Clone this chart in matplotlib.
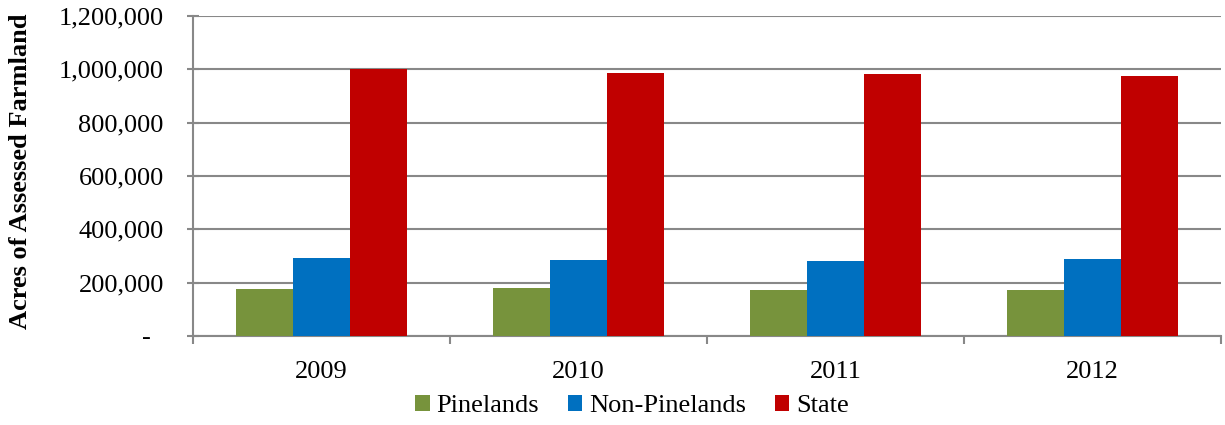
import numpy as np
import matplotlib.pyplot as plt
from matplotlib.ticker import FuncFormatter

years = ["2009", "2010", "2011", "2012"]
pinelands = [175000, 180000, 174000, 173000]
non_pinelands = [294000, 285000, 283000, 287000]
state = [1000000, 987000, 982000, 975000]

series = [("Pinelands", pinelands, "#77933C"),
          ("Non-Pinelands", non_pinelands, "#0070C0"),
          ("State", state, "#C00000")]

plt.rcParams['font.family'] = ['Liberation Serif', 'DejaVu Serif']
fs = 19

fig = plt.figure(figsize=(12.25, 4.25), dpi=100)
ax = fig.add_axes([193/1225, 1 - 336/425, 1028/1225, 320/425])

x = np.arange(len(years))
w = 0.222
for i, (name, vals, col) in enumerate(series):
    ax.bar(x + (i - 1) * w, vals, w, color=col, label=name, zorder=3)

ax.set_xlim(-0.5, 3.5)
ax.set_ylim(0, 1200000)
ax.set_yticks(np.arange(0, 1200001, 200000))
ax.yaxis.set_major_formatter(FuncFormatter(lambda v, p: "-  " if v == 0 else f"{int(v):,}"))
ax.set_xticks(x)
ax.set_xticklabels(years)
ax.set_xticks(np.arange(-0.5, 4, 1), minor=True)
ax.tick_params(axis='x', which='major', length=0, labelsize=fs, pad=18)
ax.tick_params(axis='x', which='minor', length=6, width=1.5, color='#888888', direction='out')
ax.tick_params(axis='y', length=8, width=1.5, color='#888888', direction='inout', labelsize=fs, pad=17)

ax.grid(axis='y', color='#888888', linewidth=1.5, zorder=0)
for s in ['top', 'right']:
    ax.spines[s].set_visible(False)
for s in ['left', 'bottom']:
    ax.spines[s].set_color('#888888')
    ax.spines[s].set_linewidth(1.5)

ax.set_ylabel("Acres of Assessed Farmland", fontsize=fs, fontweight='bold')
ax.yaxis.set_label_coords(-0.157, 0.516)

ax.legend(loc='center', bbox_to_anchor=(0.427, -0.218), ncol=3, frameon=False,
          fontsize=fs, handlelength=0.55, handleheight=0.55, handletextpad=0.25,
          columnspacing=1.1)

fig.savefig("out.png", dpi=100)
